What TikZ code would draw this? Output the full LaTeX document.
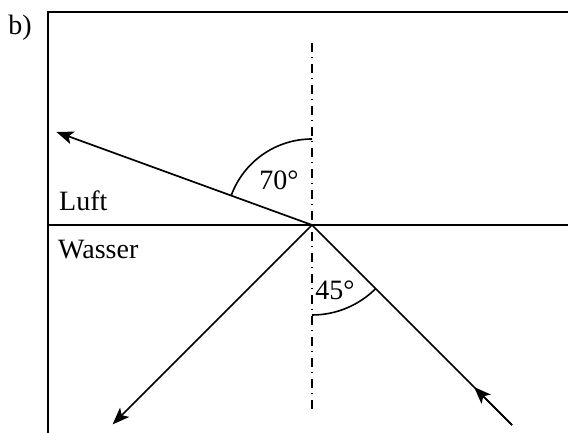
\documentclass[tikz,border=0pt]{standalone}
\usepackage{fontspec}
\setmainfont{Liberation Serif}
\usetikzlibrary{arrows.meta,calc}
\begin{document}
\begin{tikzpicture}[x=1pt,y=1pt,
  lbl/.style={inner sep=0pt,font=\fontsize{28}{32}\selectfont},
  frame/.style={line width=2pt,line join=miter},
  ray/.style={line width=1.7pt},
  arr/.style={line width=1.7pt,-{Stealth[length=17pt,width=13pt,inset=4pt]}},
  normalline/.style={line width=1.2pt,dash pattern=on 9pt off 5pt on 1.5pt off 5.5pt},
  anglearc/.style={line width=1.6pt}]
\useasboundingbox (0,0) rectangle (568,433);
% frame
\coordinate (fbl) at (48,0);
\coordinate (ftl) at (48,421);
\coordinate (ftr) at (568,421);
\draw[frame] (fbl) -- (ftl) -- (ftr);
% surface
\coordinate (sl) at (48,208);
\coordinate (sr) at (568,208);
\draw[line width=1.5pt] (sl) -- (sr);
% point of incidence
\coordinate (O) at (312,208);
% normal
\coordinate (nt) at (312,390);
\coordinate (nb) at (312,23);
\draw[normalline] (nt) -- (nb);
% rays
\coordinate (refl) at ($(O)+(160:272)$);
\draw[arr] (O) -- (refl);
\coordinate (inc) at ($(O)+(-45:283)$);
\coordinate (inctip) at ($(inc)!0.19!(O)$);
\draw[ray] (inc) -- (O);
\draw[arr] (inc) -- (inctip);
\coordinate (refr) at ($(O)+(-135:282)$);
\draw[arr] (O) -- (refr);
% angle arcs
\draw[anglearc] ($(O)+(90:86)$) arc[start angle=90,end angle=160,radius=86];
\draw[anglearc] ($(O)+(270:90)$) arc[start angle=270,end angle=315,radius=90];
% labels
\node[lbl,anchor=base] (b) at (20,398) {b)};
\node[lbl,anchor=base west] (luft) at (59,222) {Luft};
\node[lbl,anchor=base west] (wasser) at (58,174) {Wasser};
\node[lbl,anchor=base] (a70) at (279,243) {70°};
\node[lbl,anchor=base] (a45) at (335,133) {45°};
\end{tikzpicture}
\end{document}
